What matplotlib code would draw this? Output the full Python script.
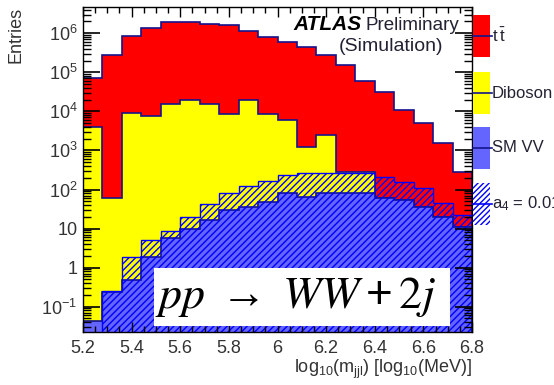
import numpy as np
import matplotlib
matplotlib.use("Agg")
import matplotlib.pyplot as plt
from matplotlib.patches import Rectangle
from matplotlib.lines import Line2D
from matplotlib.ticker import FixedLocator, FuncFormatter, MultipleLocator

plt.rcParams['font.family'] = ['Liberation Sans', 'DejaVu Sans']
plt.rcParams['mathtext.default'] = 'regular'
plt.rcParams['hatch.linewidth'] = 1.0

# bin edges in log10(m_jjl / MeV), 20 bins of 0.08
edges = [5.20, 5.28, 5.36, 5.44, 5.52, 5.60, 5.68, 5.76, 5.84, 5.92, 6.00,
         6.08, 6.16, 6.24, 6.32, 6.40, 6.48, 6.56, 6.64, 6.72, 6.80]

# entries per bin for each sample
sm_vv = [0.042, 0.24, 0.48, 1.9, 5.6, 10, 17, 30, 36, 49,
         80, 66, 80, 80, 80, 60, 54, 36, 20, 11]
diboson = [4.1e3, 60, 9.3e3, 7.8e3, 1.55e4, 1.95e4, 1.55e4, 8.5e3, 1.95e4, 8.4e3,
           5.9e3, 1.13e3, 2.4e3, 200, 200, 0, 0, 0, 0, 0]
ttbar = [6.8e4, 2.8e5, 8.4e5, 1.39e6, 1.88e6, 1.88e6, 1.68e6, 1.59e6, 1.13e6, 8.1e5,
         5.8e5, 4.5e5, 2.8e5, 1.5e5, 5.8e4, 3.2e4, 1.1e4, 5.0e3, 1.5e3, 2.7e2]
a4_signal = [0, 0.25, 1.84, 5.1, 8.8, 19.5, 43, 80, 120, 170,
             230, 260, 270, 260, 260, 210, 160, 107, 44, 22]

legend_labels = [r'$t\,\bar{t}$', 'Diboson', 'SM VV', r'a$_{4}$ = 0.01']

# stacked levels
lvl_vv = np.array(sm_vv)
lvl_dib = lvl_vv + np.array(diboson)
lvl_tt = lvl_dib + np.array(ttbar)

W, H = 554, 385
fig = plt.figure(figsize=(W/100, H/100), dpi=100)
ax = fig.add_axes([83/W, 53/H, 389/W, 325/H])

outline = '#14148c'
base = 1e-3
ax.stairs(lvl_tt, edges, fill=True, facecolor='#ff0000', edgecolor=outline, lw=1.2, baseline=base)
ax.stairs(lvl_dib, edges, fill=True, facecolor='#ffff00', edgecolor=outline, lw=1.2, baseline=base)
ax.stairs(lvl_vv, edges, fill=True, facecolor='#6464ff', edgecolor=outline, lw=1.2, baseline=base)
ax.stairs(a4_signal, edges, fill=True, facecolor='none', edgecolor='#0000ff', hatch='/////',
          lw=1.0, baseline=base)

ax.set_yscale('log')
ax.set_xlim(5.2, 6.8)
ax.set_ylim(0.0225, 4.7e6)

# ROOT style ticks
ax.xaxis.set_major_locator(MultipleLocator(0.2))
ax.xaxis.set_minor_locator(MultipleLocator(0.05))
ax.xaxis.set_major_formatter(FuncFormatter(lambda v, p: '%g' % round(v, 2)))

def ylab(v, p):
    if abs(v - 1) < 1e-9:
        return '1'
    if abs(v - 10) < 1e-9:
        return '10'
    return r'$10^{%d}$' % int(round(np.log10(v)))

ax.yaxis.set_major_locator(FixedLocator([1e-1, 1, 10, 1e2, 1e3, 1e4, 1e5, 1e6]))
ax.yaxis.set_major_formatter(FuncFormatter(ylab))
ax.tick_params(axis='both', which='both', direction='in', top=True, right=True,
               labelsize=13, labelcolor='#333333')
ax.tick_params(axis='y', which='major', length=12, width=1.2, pad=4)
ax.tick_params(axis='y', which='minor', length=6, width=1)
ax.tick_params(axis='x', which='major', length=7, width=1, pad=6)
ax.tick_params(axis='x', which='minor', length=4, width=1)
for s in ax.spines.values():
    s.set_linewidth(1.0)

ax.set_ylabel('Entries', fontsize=13, color='#333333', loc='top')
ax.yaxis.set_label_coords(-0.15, 1.0)
ax.set_xlabel(r'log$_{10}$(m$_{jjl}$) [log$_{10}$(MeV)]', fontsize=13, color='#333333', loc='right')
ax.xaxis.set_label_coords(1.0, -0.08)

# ATLAS label
ax.text(0.54, 0.93, 'ATLAS', transform=ax.transAxes, fontsize=15, fontweight='bold',
        fontstyle='italic', color='black')
ax.text(0.7275, 0.93, 'Preliminary', transform=ax.transAxes, fontsize=13.5, color='#222233')
ax.text(0.792, 0.877, '(Simulation)', transform=ax.transAxes, fontsize=14, color='#222233',
        ha='center', va='center')

# process label in a white box
ax.add_patch(Rectangle((0.1825, 0.018), 0.7605, 0.179, transform=ax.transAxes,
                       facecolor='white', edgecolor='none', zorder=3))
ax.text(0.548, 0.074, r'$\mathit{pp}\;\rightarrow\;\mathit{WW}+\mathrm{2}\mathit{j}$',
        transform=ax.transAxes, fontsize=33,
        math_fontfamily='stix', ha='center', va='baseline', zorder=4)

# legend boxes outside the frame on the right (ROOT "lf" style)
leg_face = ['#ff0000', '#ffff00', '#6464ff', 'white']
leg_line = [outline, outline, outline, '#0000ff']
leg_hatch = [None, None, None, '//////']
leg_top = [15, 72, 127, 183]
box_h = 42
for lab, fc, lc, hh, top in zip(legend_labels, leg_face, leg_line, leg_hatch, leg_top):
    x0, x1 = 473 / W, 490 / W
    yc = 1 - (top + box_h / 2) / H
    fig.add_artist(Rectangle((x0, 1 - (top + box_h) / H), x1 - x0, box_h / H,
                             transform=fig.transFigure, facecolor=fc,
                             edgecolor='#0000ff' if hh else 'none', lw=0, hatch=hh))
    fig.add_artist(Line2D([x0, 492 / W], [yc, yc], transform=fig.transFigure, color=lc, lw=1.2))
    fig.text(492 / W, yc, lab, fontsize=12, color='#222233', va='center', ha='left')

fig.savefig('out.png', dpi=100)
